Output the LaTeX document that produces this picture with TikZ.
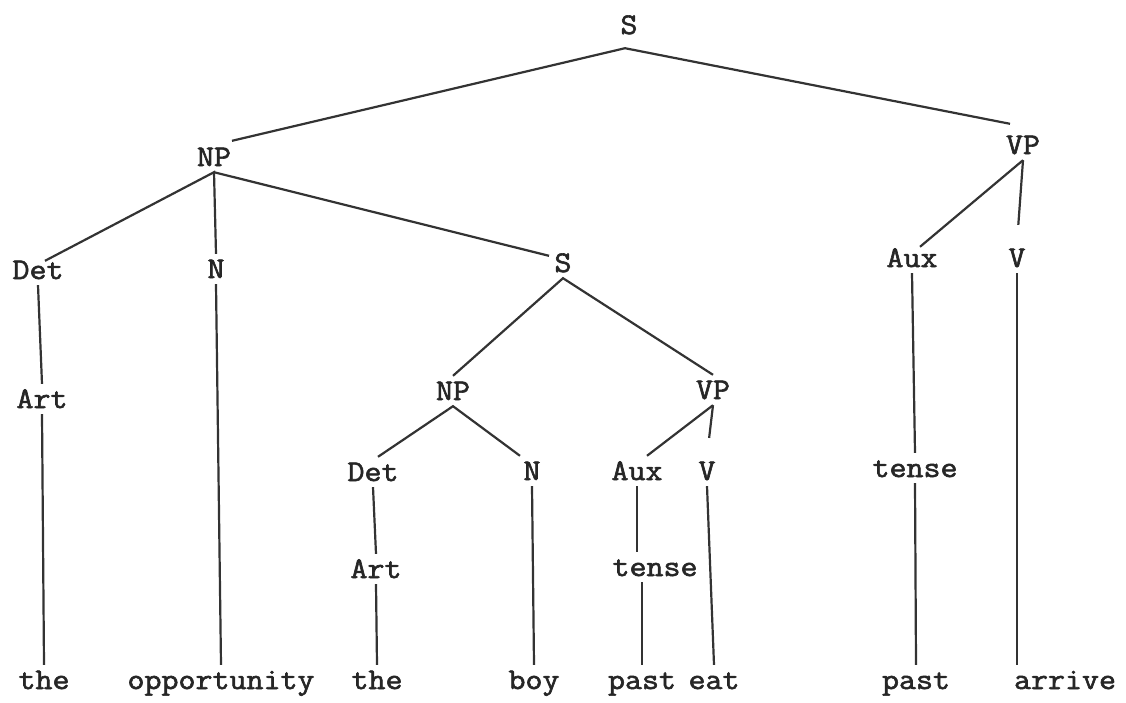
\documentclass[tikz,border=0pt]{standalone}
\usepackage{fontspec}
\setmonofont[FakeStretch=1.1,FakeBold=2]{Latin Modern Mono}
\begin{document}
\begin{tikzpicture}[x=1pt,y=-1pt,
  lbl/.style={font=\ttfamily\fontsize{30}{32}\selectfont, text=black!85,
    inner xsep=0pt, inner ysep=6pt, text height=18pt, text depth=0pt},
  branch/.style={line width=2.2pt, draw=black!80},
  longgap/.style={shorten >=18pt}]
\useasboundingbox (0,0) rectangle (1126,702);
% level 0
\node[lbl] (S0) at (629,25) {S};
% level 1
\node[lbl] (NP1) at (214,157) {NP};
\node[lbl] (VP1) at (1023,145) {VP};
% level 2
\node[lbl] (Det1) at (38,270) {Det};
\node[lbl] (N1) at (216,269) {N};
\node[lbl] (S1) at (563,263) {S};
\node[lbl] (Aux1) at (912,258) {Aux};
\node[lbl] (V1) at (1017,258) {V};
% level 3
\node[lbl] (Art1) at (42,399) {Art};
\node[lbl] (NP2) at (453,391) {NP};
\node[lbl] (VP2) at (713,390) {VP};
% level 4
\node[lbl] (Det2) at (373,472) {Det};
\node[lbl] (N2) at (532,471) {N};
\node[lbl] (Aux2) at (637,471) {Aux};
\node[lbl] (V2) at (707,471) {V};
\node[lbl] (tense1) at (915,468) {tense};
% level 5
\node[lbl] (Art2) at (376,569) {Art};
\node[lbl] (tense2) at (655,567) {tense};
% words
\node[lbl] (w1) at (44,680) {the};
\node[lbl] (w2) at (221,680) {opportunity};
\node[lbl] (w3) at (377,680) {the};
\node[lbl] (w4) at (534,680) {boy};
\node[lbl] (w5) at (642,680) {past};
\node[lbl] (w6) at (714,680) {eat};
\node[lbl] (w7) at (916,680) {past};
\node[lbl] (w8) at (1065,680) {arrive};
% branches
\draw[branch] ([xshift=18pt,yshift=1pt]NP1.north) -- ([xshift=-4pt,yshift=-8pt]S0.south) -- ([xshift=-13pt,yshift=6pt]VP1.north);
\draw[branch] ([xshift=7pt,yshift=-6pt]Det1.north) -- (NP1.south) -- (N1.north);
\draw[branch] (NP1.south) -- ([xshift=-14pt,yshift=-8pt]S1.north);
\draw[branch] ([xshift=8pt,yshift=-4pt]Aux1.north) -- (VP1.south);
\draw[branch, longgap] (VP1.south) -- (V1.north);
\draw[branch] (Det1.south) -- (Art1.north);
\draw[branch] (Art1.south) -- (w1.north);
\draw[branch] (N1.south) -- (w2.north);
\draw[branch] (NP2.north) -- (S1.south) -- (VP2.north);
\draw[branch] ([xshift=5pt]Det2.north) -- (NP2.south) -- ([xshift=-12pt]N2.north);
\draw[branch] ([xshift=10pt]Aux2.north) -- (VP2.south);
\draw[branch, longgap] (VP2.south) -- (V2.north);
\draw[branch] (Det2.south) -- (Art2.north);
\draw[branch] (Art2.south) -- (w3.north);
\draw[branch] (N2.south) -- (w4.north);
\draw[branch] (Aux2.south) -- (tense2.north -| Aux2.south);
\draw[branch] (tense2.south -| w5.north) -- (w5.north);
\draw[branch] (V2.south) -- (w6.north);
\draw[branch] (Aux1.south) -- (tense1.north);
\draw[branch] (tense1.south) -- (w7.north);
\draw[branch] (V1.south) -- (w8.north -| V1.south);
\end{tikzpicture}
\end{document}
